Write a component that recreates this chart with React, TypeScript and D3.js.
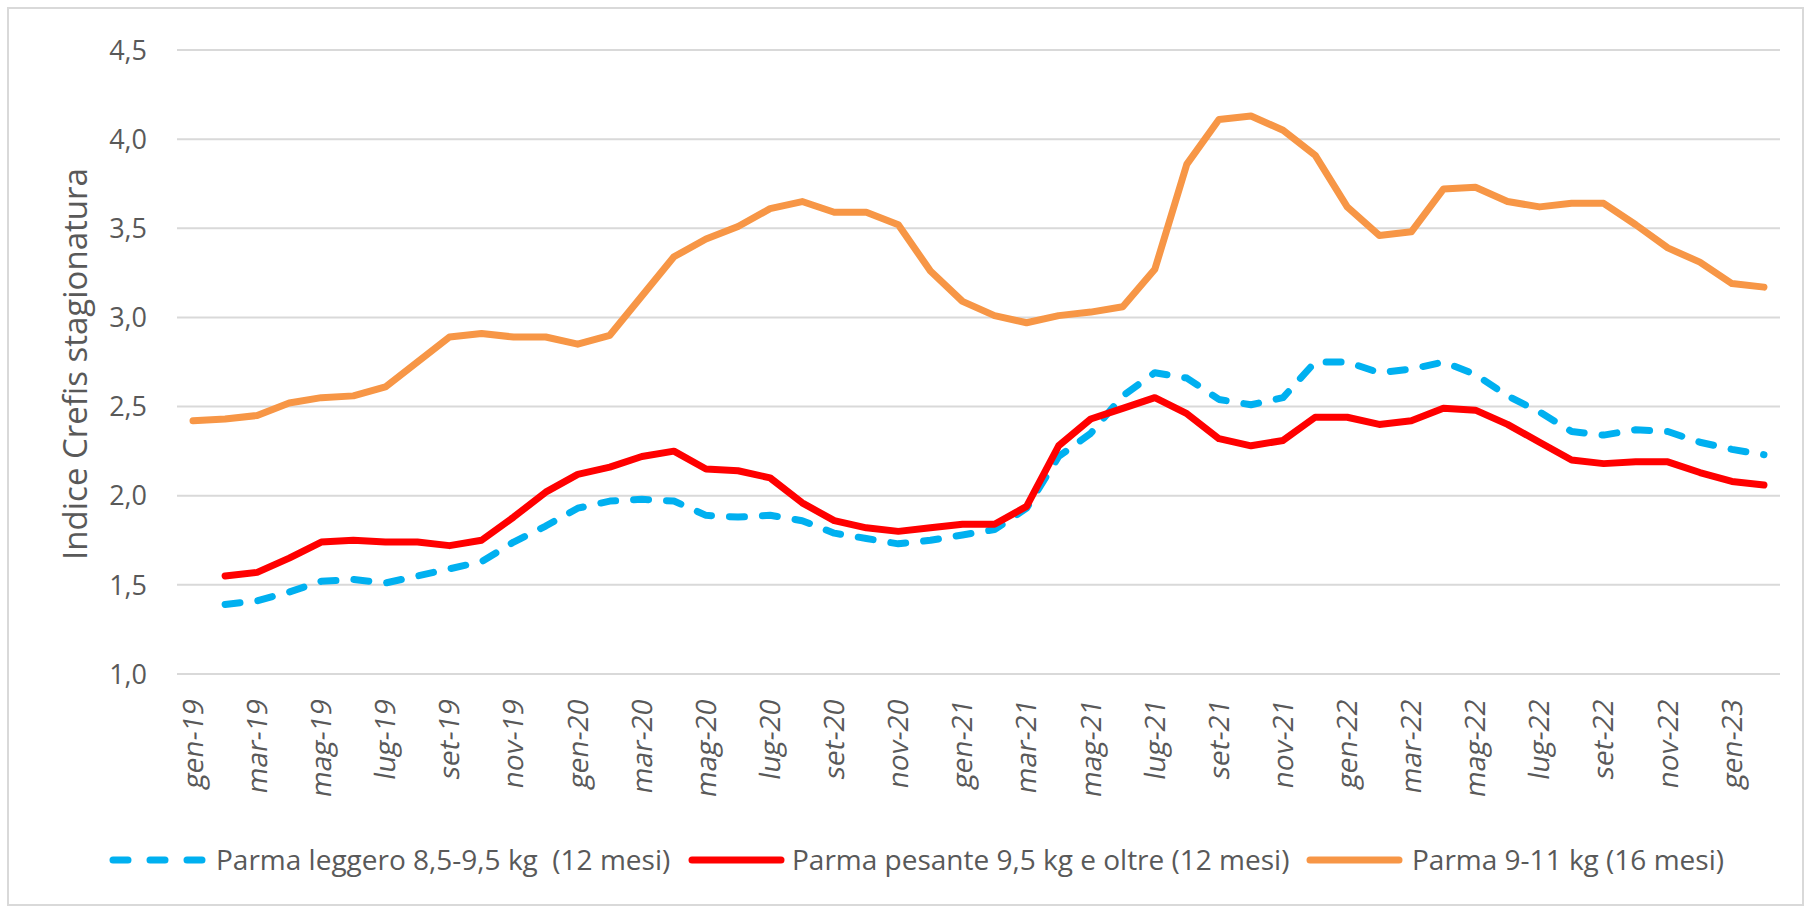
import React from "react";
import * as d3 from "d3";

const width = 1806;
const height = 908;
const margin = { top: 50, right: 26, bottom: 234, left: 177 };

const mesi = [
  "gen-19", "feb-19", "mar-19", "apr-19", "mag-19", "giu-19", "lug-19", "ago-19", "set-19", "ott-19", "nov-19", "dic-19",
  "gen-20", "feb-20", "mar-20", "apr-20", "mag-20", "giu-20", "lug-20", "ago-20", "set-20", "ott-20", "nov-20", "dic-20",
  "gen-21", "feb-21", "mar-21", "apr-21", "mag-21", "giu-21", "lug-21", "ago-21", "set-21", "ott-21", "nov-21", "dic-21",
  "gen-22", "feb-22", "mar-22", "apr-22", "mag-22", "giu-22", "lug-22", "ago-22", "set-22", "ott-22", "nov-22", "dic-22",
  "gen-23", "feb-23"
];

// Parma leggero 8,5-9,5 kg (12 mesi)
const leggero = [
  null, 1.39, 1.41, 1.46, 1.52, 1.53, 1.51, 1.55, 1.59, 1.63, 1.74, 1.83,
  1.93, 1.97, 1.98, 1.97, 1.89, 1.88, 1.89, 1.86, 1.79, 1.76, 1.73, 1.75,
  1.78, 1.81, 1.93, 2.22, 2.35, 2.56, 2.69, 2.66, 2.54, 2.51, 2.55, 2.75,
  2.75, 2.69, 2.71, 2.75, 2.68, 2.56, 2.47, 2.36, 2.34, 2.37, 2.36, 2.30,
  2.26, 2.23
];

// Parma pesante 9,5 kg e oltre (12 mesi)
const pesante = [
  null, 1.55, 1.57, 1.65, 1.74, 1.75, 1.74, 1.74, 1.72, 1.75, 1.88, 2.02,
  2.12, 2.16, 2.22, 2.25, 2.15, 2.14, 2.10, 1.96, 1.86, 1.82, 1.80, 1.82,
  1.84, 1.84, 1.94, 2.28, 2.43, 2.49, 2.55, 2.46, 2.32, 2.28, 2.31, 2.44,
  2.44, 2.40, 2.42, 2.49, 2.48, 2.40, 2.30, 2.20, 2.18, 2.19, 2.19, 2.13,
  2.08, 2.06
];

// Parma 9-11 kg (16 mesi)
const parma16 = [
  2.42, 2.43, 2.45, 2.52, 2.55, 2.56, 2.61, 2.75, 2.89, 2.91, 2.89, 2.89,
  2.85, 2.90, 3.12, 3.34, 3.44, 3.51, 3.61, 3.65, 3.59, 3.59, 3.52, 3.26,
  3.09, 3.01, 2.97, 3.01, 3.03, 3.06, 3.27, 3.86, 4.11, 4.13, 4.05, 3.91,
  3.62, 3.46, 3.48, 3.72, 3.73, 3.65, 3.62, 3.64, 3.64, 3.52, 3.39, 3.31,
  3.19, 3.17
];

const yTicks = [1.0, 1.5, 2.0, 2.5, 3.0, 3.5, 4.0, 4.5];

const series = [
  { name: "Parma leggero 8,5-9,5 kg  (12 mesi)", values: leggero, color: "#00B0F0", dash: "15,18", lx: 109, tx: 216 },
  { name: "Parma pesante 9,5 kg e oltre (12 mesi)", values: pesante, color: "#FF0000", dash: null, lx: 688, tx: 792 },
  { name: "Parma 9-11 kg (16 mesi)", values: parma16, color: "#F79646", dash: null, lx: 1306, tx: 1412 }
];

const font = "'Open Sans', 'Noto Sans', sans-serif";
const textColor = "#595959";

export default function App() {
  const x = d3
    .scaleBand<string>()
    .domain(mesi)
    .range([margin.left, width - margin.right]);
  const y = d3
    .scaleLinear()
    .domain([1, 4.5])
    .range([height - margin.bottom, margin.top]);

  const cx = (i: number) => (x(mesi[i]) as number) + x.bandwidth() / 2;
  const line = d3
    .line<number | null>()
    .defined((d) => d != null)
    .x((_, i) => cx(i))
    .y((d) => y(d as number));

  const fmt = (v: number) => v.toFixed(1).replace(".", ",");
  const legendY = 860;

  return (
    <svg
      width={width}
      height={height}
      style={{ position: "absolute", left: 0, top: 0, background: "#fff" }}
      fontFamily={font}
    >
      <rect x={8} y={8} width={1795} height={897} fill="#fff" stroke="#D9D9D9" strokeWidth={2} />

      {/* gridlines + y tick labels */}
      {yTicks.map((t) => (
        <g key={t}>
          <line x1={margin.left} x2={width - margin.right} y1={y(t)} y2={y(t)} stroke="#D9D9D9" strokeWidth={2} />
          <text x={147} y={y(t)} dy="0.36em" textAnchor="end" fontSize={27} fill={textColor}>
            {fmt(t)}
          </text>
        </g>
      ))}

      {/* x labels, every two months */}
      {mesi.map((m, i) =>
        i % 2 === 0 ? (
          <text
            key={m}
            transform={`translate(${cx(i)},699) rotate(-90) skewX(-10)`}
            dy="0.35em"
            textAnchor="end"
            fontSize={28}
            fill={textColor}
          >
            {m}
          </text>
        ) : null
      )}

      {/* y axis title */}
      <text
        transform={`translate(87,364) rotate(-90)`}
        textAnchor="middle"
        fontSize={33}
        fill={textColor}
      >
        Indice Crefis stagionatura
      </text>

      {/* lines */}
      {series.map((s) => (
        <path
          key={s.name}
          d={line(s.values) || ""}
          fill="none"
          stroke={s.color}
          strokeWidth={7}
          strokeLinejoin="round"
          strokeLinecap="round"
          strokeDasharray={s.dash || undefined}
        />
      ))}

      {/* legend */}
      {series.map((s) => (
        <g key={"lg" + s.name}>
          <line
            x1={s.lx + 4}
            x2={s.lx + 93}
            y1={legendY}
            y2={legendY}
            stroke={s.color}
            strokeWidth={7}
            strokeLinecap="round"
            strokeDasharray={s.dash ? "15,22" : undefined}
          />
          <text x={s.tx} y={legendY} dy="0.36em" fontSize={28} fill={textColor} style={{ whiteSpace: "pre" }}>
            {s.name}
          </text>
        </g>
      ))}
    </svg>
  );
}
